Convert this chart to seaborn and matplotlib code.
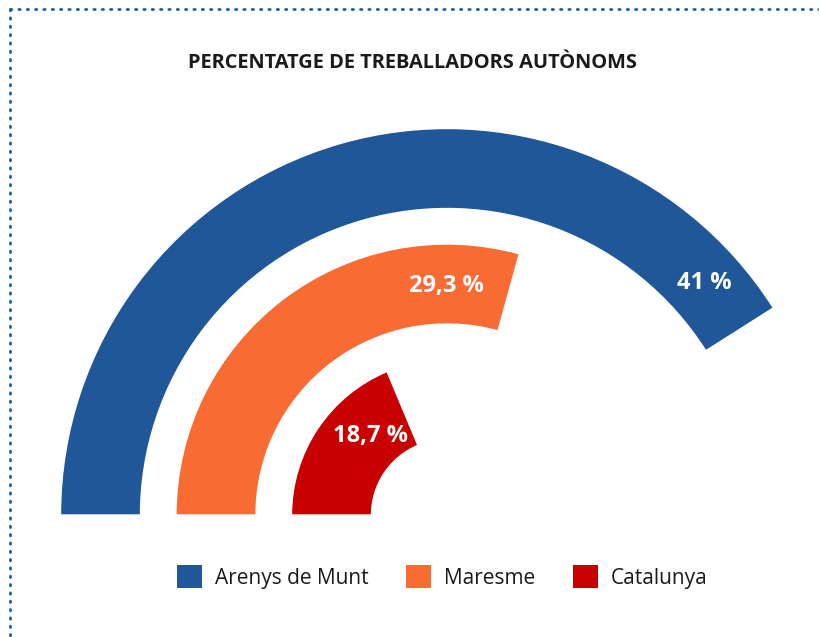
import numpy as np
import pandas as pd
import matplotlib
matplotlib.use("Agg")
import matplotlib.pyplot as plt
from matplotlib.patches import Patch
from matplotlib.lines import Line2D
import seaborn as sns

# ---- data ----
categories = ["Catalunya", "Maresme", "Arenys de Munt"]   # inner -> outer
values = [18.7, 29.3, 41.0]
labels = ["18,7 %", "29,3 %", "41 %"]
legend_order = ["Arenys de Munt", "Maresme", "Catalunya"]
title = "PERCENTATGE DE TREBALLADORS AUTÒNOMS"
scale_max = 50.0  # value that fills the half circle

colors = {"Arenys de Munt": "#1f5799", "Maresme": "#f86c34", "Catalunya": "#c80000"}

sns.set_theme(style="white")
plt.rcParams["font.family"] = ["Open Sans", "DejaVu Sans"]

df = pd.DataFrame({"cat": categories, "val": values})
df["theta"] = df["val"] / scale_max * np.pi

W, H = 819, 637
fig = plt.figure(figsize=(W / 100, H / 100), dpi=100)

# polar axes placed so the centre is at (447, 515) px, 1 r-unit = 115.5 px
unit = 115.5
rmin, rmax = -1.0, 2.5
rad_px = (rmax - rmin) * unit
cx, cy = 447, H - 515
ax = fig.add_axes([(cx - rad_px) / W, (cy - rad_px) / H, 2 * rad_px / W, 2 * rad_px / H],
                  projection="polar")
ax.set_theta_zero_location("W")
ax.set_theta_direction(-1)

sns.barplot(data=df, x="theta", y="cat", hue="cat", palette=colors, orient="h",
            width=0.693, saturation=1, legend=False, ax=ax, order=categories,
            errorbar=None)

ax.set_ylim(rmin, rmax)
ax.set_rorigin(rmin)
ax.set_xticks([])
ax.set_yticks([])
ax.set_xlabel("")
ax.set_ylabel("")
ax.grid(False)
ax.spines["polar"].set_visible(False)
ax.set_facecolor("none")

# value labels inside bar ends
label_frac = [0.685, 0.853, 0.935]
label_dr = [-0.05, -0.02, 0.0]
for i, (th, lab) in enumerate(zip(df["theta"], labels)):
    ax.text(th * label_frac[i], i + label_dr[i], lab, ha="center", va="center",
            color="white", fontsize=17, fontweight="bold")

# title
fig.text(413 / W, 1 - 63 / H, title, ha="center", va="center", fontsize=14.4,
         fontweight="bold", color="#1a1a1a")

# legend
handles = [Patch(facecolor=colors[c], edgecolor="none", label=c) for c in legend_order]
fig.legend(handles=handles, loc="center", bbox_to_anchor=(442 / W, 1 - 577 / H),
           ncol=3, frameon=False, fontsize=15, handlelength=1.2, handleheight=1.25,
           handletextpad=0.62, columnspacing=1.8, labelcolor="#1a1a1a")

# dotted frame (top and left)
dot_col = "#1f5f96"
fig.add_artist(Line2D([10 / W, 1.0], [1 - 9 / H, 1 - 9 / H], color=dot_col, lw=2,
                      linestyle=(0, (0.5, 2.5)), dash_capstyle="round",
                      transform=fig.transFigure))
fig.add_artist(Line2D([10 / W, 10 / W], [1 - 9 / H, 0.0], color=dot_col, lw=2,
                      linestyle=(0, (0.5, 2.5)), dash_capstyle="round",
                      transform=fig.transFigure))

fig.savefig("out.png", dpi=100, facecolor="white")
